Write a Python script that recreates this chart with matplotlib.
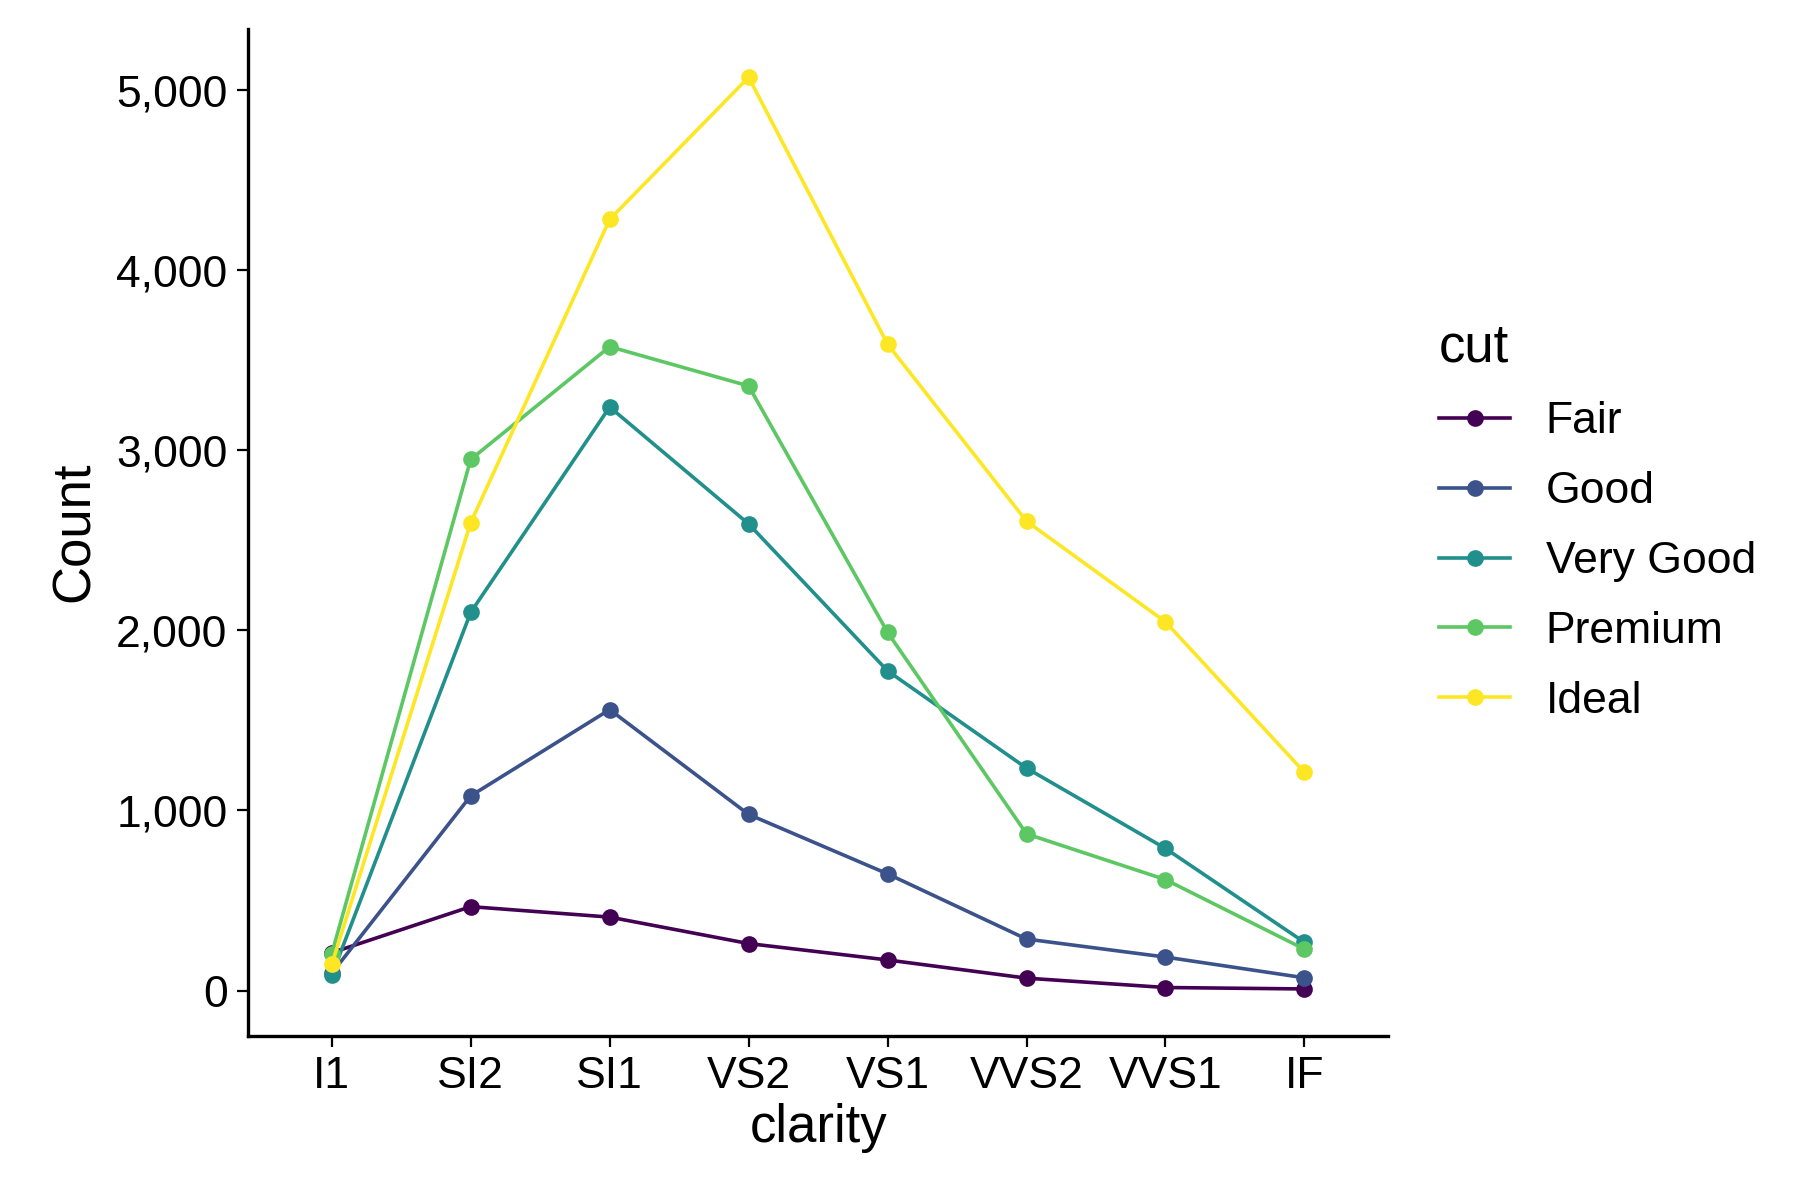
import matplotlib
matplotlib.use("Agg")
import matplotlib.pyplot as plt
from matplotlib.ticker import FuncFormatter

plt.rcParams["font.family"] = ["Liberation Sans", "DejaVu Sans"]

clarity = ["I1", "SI2", "SI1", "VS2", "VS1", "VVS2", "VVS1", "IF"]
cuts = ["Fair", "Good", "Very Good", "Premium", "Ideal"]
fair = [210, 466, 408, 261, 170, 69, 17, 9]
good = [96, 1081, 1560, 978, 648, 286, 186, 71]
very_good = [84, 2100, 3240, 2591, 1775, 1235, 789, 268]
premium = [205, 2949, 3575, 3357, 1989, 870, 616, 230]
ideal = [146, 2598, 4282, 5071, 3589, 2606, 2047, 1212]
series = [fair, good, very_good, premium, ideal]
colors = ["#440154", "#3B528B", "#21908C", "#5DC863", "#FDE725"]

fig = plt.figure(figsize=(9, 6), dpi=200)
ax = fig.add_axes([0.138, 0.137, 0.633, 0.839])
x = range(len(clarity))
for name, vals, c in zip(cuts, series, colors):
    ax.plot(x, vals, color=c, lw=1.3, marker="o", ms=5, label=name)

ax.set_xticks(list(x))
ax.set_xticklabels(clarity)
ax.set_xlim(-0.6, 7.6)
ax.set_ylim(-250, 5340)
ax.set_yticks([0, 1000, 2000, 3000, 4000, 5000])
ax.yaxis.set_major_formatter(FuncFormatter(lambda v, p: f"{int(v):,}"))
ax.tick_params(labelsize=16, colors="black", length=4)
ax.set_xlabel("clarity", fontsize=19, labelpad=2)
ax.set_ylabel("Count", fontsize=19, labelpad=6)
for s in ["top", "right"]:
    ax.spines[s].set_visible(False)
for s in ["left", "bottom"]:
    ax.spines[s].set_linewidth(1.2)

leg = ax.legend(title="cut", loc="center left", bbox_to_anchor=(1.01, 0.51),
                frameon=False, fontsize=16, title_fontsize=19, handlelength=1.6,
                labelspacing=0.65, alignment="left")
fig.savefig("out.png", dpi=200)
